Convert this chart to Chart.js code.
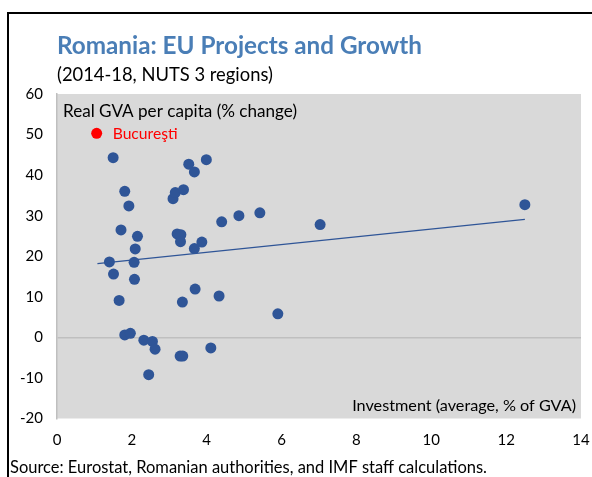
<!DOCTYPE html>
<html><head><meta charset="utf-8">
<script src="https://cdn.jsdelivr.net/npm/chart.js@4.4.1/dist/chart.umd.min.js"></script>
<style>html,body{margin:0;padding:0;background:#fff;}#wrap{position:relative;width:592px;height:477px;}</style>
</head><body><div id="wrap"><canvas id="c" width="592" height="477"></canvas></div>
<script>
// NUTS 3 regions (excluding Bucureşti): investment (avg, % of GVA) and real GVA per capita growth (%)
const investment = [1.50, 3.52, 3.67, 3.99, 1.81, 1.92, 3.10, 3.16, 3.38, 4.40, 4.86, 5.42, 7.03, 12.50,
  1.71, 2.15, 3.21, 3.31, 3.30, 3.87, 3.67, 2.09, 1.40, 2.06, 1.51, 2.07, 3.69, 4.33, 3.35, 1.66, 5.90,
  1.81, 1.96, 2.32, 2.55, 2.62, 4.11, 3.29, 3.36, 2.45];
const gvaGrowth = [44.3, 42.7, 40.8, 43.8, 36.0, 32.4, 34.2, 35.7, 36.4, 28.5, 30.0, 30.7, 27.8, 32.7,
  26.5, 24.9, 25.5, 25.3, 23.6, 23.5, 21.9, 21.8, 18.6, 18.5, 15.6, 14.3, 11.9, 10.2, 8.7, 9.1, 5.8,
  0.6, 1.0, -0.7, -1.0, -2.9, -2.6, -4.6, -4.6, -9.2];
const bucharestInvestment = [1.06];
const bucharestGrowth = [50.3];
const trendInvestment = [1.08, 12.5];
const trendGrowth = [18.2, 29.1];
const xTickValues = [0, 2, 4, 6, 8, 10, 12, 14];
const yTickValues = [-20, -10, 0, 10, 20, 30, 40, 50, 60];

const FONT = 'Lato, "Liberation Sans", sans-serif';

function drawFit(ctx, text, x, y, targetW, weight, color, align, baseSize) {
  ctx.save();
  ctx.font = weight + ' ' + baseSize + 'px ' + FONT;
  const w = ctx.measureText(text).width;
  const size = baseSize * targetW / w;
  ctx.font = weight + ' ' + size.toFixed(2) + 'px ' + FONT;
  ctx.fillStyle = color;
  ctx.textAlign = align;
  ctx.textBaseline = 'middle';
  ctx.fillText(text, x, y);
  ctx.restore();
}

const decor = {
  id: 'decor',
  beforeDraw(chart) {
    const {ctx, chartArea: a} = chart;
    ctx.save();
    ctx.fillStyle = '#D9D9D9';
    ctx.fillRect(a.left, a.top, a.right - a.left, a.bottom - a.top);
    ctx.restore();
  },
  afterDraw(chart) {
    const {ctx, chartArea: a, scales} = chart;
    ctx.save();
    ctx.strokeStyle = '#000';
    ctx.lineWidth = 2;
    ctx.beginPath();
    ctx.moveTo(592, 13);
    ctx.lineTo(8, 13);
    ctx.lineTo(8, 477);
    ctx.stroke();
    ctx.restore();
    drawFit(ctx, 'Romania: EU Projects and Growth', 57, 46, 365, 'bold', '#4A7EB6', 'left', 22);
    drawFit(ctx, '(2014-18, NUTS 3 regions)', 57, 75, 216, 'normal', '#000', 'left', 17);
    drawFit(ctx, 'Real GVA per capita (% change)', a.left + 6, 111, 234, 'normal', '#000', 'left', 16);
    const bx = scales.x.getPixelForValue(bucharestInvestment[0]);
    const by = scales.y.getPixelForValue(bucharestGrowth[0]);
    drawFit(ctx, 'Bucureşti', bx + 16, by + 1, 65, 'normal', '#FF0000', 'left', 16);
    drawFit(ctx, 'Investment (average, % of GVA)', a.right - 5, a.bottom - 13, 224, 'normal', '#000', 'right', 16);
    drawFit(ctx, 'Source: Eurostat, Romanian authorities, and IMF staff calculations.', 10, 468, 477, 'normal', '#000', 'left', 16);
  }
};

const toPts = (xs, ys) => xs.map((x, i) => ({x: x, y: ys[i]}));

new Chart(document.getElementById('c'), {
  type: 'scatter',
  data: {
    datasets: [
      {
        label: 'Regions',
        data: toPts(investment, gvaGrowth),
        backgroundColor: '#2F5597',
        borderWidth: 0,
        pointRadius: 5.5
      },
      {
        label: 'Bucureşti',
        data: toPts(bucharestInvestment, bucharestGrowth),
        backgroundColor: '#FF0000',
        borderWidth: 0,
        pointRadius: 5.5
      },
      {
        label: 'Trend',
        data: toPts(trendInvestment, trendGrowth),
        showLine: true,
        borderColor: '#2F5597',
        borderWidth: 1.3,
        pointRadius: 0,
        fill: false
      }
    ]
  },
  options: {
    responsive: false,
    animation: false,
    devicePixelRatio: 1,
    layout: {padding: {top: 94, right: 11, bottom: 28.5, left: 0}},
    plugins: {legend: {display: false}, tooltip: {enabled: false}, title: {display: false}},
    scales: {
      x: {
        type: 'linear', min: 0, max: 14,
        afterBuildTicks: s => { s.ticks = xTickValues.map(v => ({value: v})); },
        afterFit: s => { s.height = 30; s.paddingLeft = 0; s.paddingRight = 0; },
        ticks: {color: '#000', font: {family: FONT, size: 15}, padding: 13, maxRotation: 0},
        grid: {display: false, drawTicks: false},
        border: {display: false}
      },
      y: {
        type: 'linear', min: -20, max: 60,
        afterBuildTicks: s => { s.ticks = yTickValues.map(v => ({value: v})); },
        afterFit: s => { s.width = 57; s.paddingTop = 0; s.paddingBottom = 0; },
        ticks: {color: '#000', font: {family: FONT, size: 15}, padding: 14},
        grid: {
          drawTicks: false,
          lineWidth: 1.5,
          color: c => (c.tick && c.tick.value === 0) ? '#BFBFBF' : 'rgba(0,0,0,0)'
        },
        border: {display: true, color: '#BFBFBF', width: 1.5}
      }
    }
  },
  plugins: [decor]
});
</script>
</body></html>
